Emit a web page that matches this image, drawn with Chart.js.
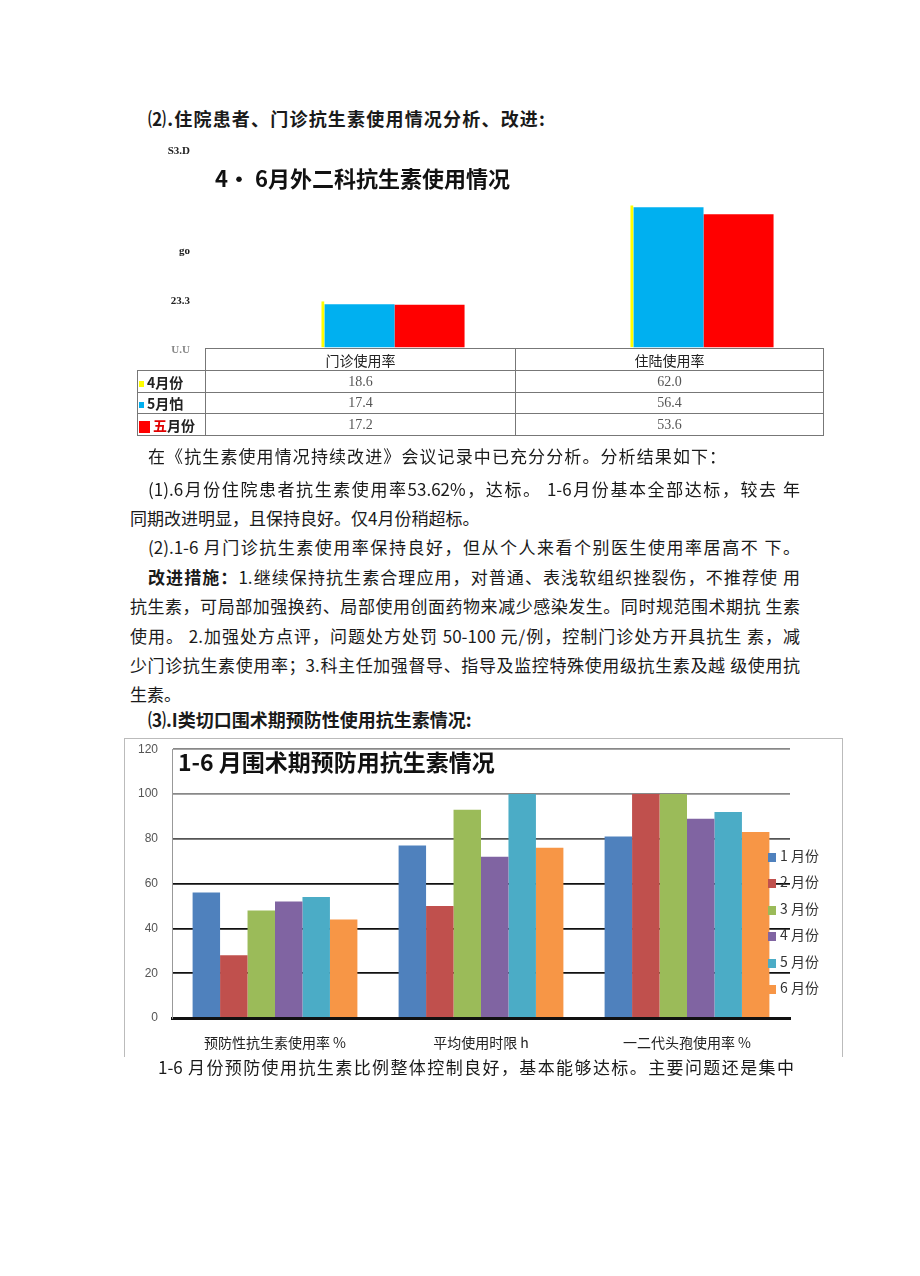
<!DOCTYPE html>
<html lang="zh">
<head>
<meta charset="utf-8">
<title>抗生素使用情况</title>
<script src="https://cdn.jsdelivr.net/npm/chart.js@4.4.1/dist/chart.umd.min.js"></script>
<style>
  html,body{margin:0;padding:0;background:#fff;}
  body{width:920px;height:1276px;position:relative;overflow:hidden;font-family:"Noto Sans CJK SC",sans-serif;color:#1a1a1a;}
  .line{position:absolute;height:26px;line-height:26px;font-size:17px;white-space:nowrap;}
  .just{text-align:justify;text-align-last:justify;white-space:normal;overflow:hidden;}
  .head{font-weight:bold;font-size:18px;}
  b{font-weight:bold;}
  .ctitle{position:absolute;font-weight:bold;white-space:nowrap;color:#111;}
  #t1{position:absolute;left:137px;top:348px;border-collapse:collapse;table-layout:fixed;}
  #t1 td{border:1px solid #777;padding:0;text-align:center;font-size:14px;line-height:18px;}
  #t1 td.corner{border:none;}
  #t1 td.hd{color:#222;}
  #t1 td.val{font-family:"Liberation Serif",serif;color:#555;}
  #t1 td.lab{text-align:left;font-weight:bold;white-space:nowrap;color:#222;}
  .sw{display:inline-block;vertical-align:middle;margin:0 3px 0 1px;}
  #frame2{position:absolute;left:124px;top:738px;width:717px;height:318px;border:1px solid #bbb;border-bottom:none;}
  .leg{position:absolute;left:768px;height:20px;line-height:20px;font-size:14px;color:#333;white-space:nowrap;}
  .leg i{display:inline-block;width:8px;height:9px;margin-right:4px;vertical-align:-1px;}
</style>
</head>
<body>

<div class="line head" style="left:148px;top:105px;letter-spacing:1.2px;">⑵.住院患者、门诊抗生素使用情况分析、改进:</div>

<canvas id="c1" width="686" height="242" style="position:absolute;left:137px;top:127px;"></canvas>
<div class="ctitle" style="left:215px;top:161px;font-size:22px;">4· 6月外二科抗生素使用情况</div>
<table id="t1"></table>

<div class="line" style="left:148px;top:443px;letter-spacing:1.1px;">在《抗生素使用情况持续改进》会议记录中已充分分析。分析结果如下：</div>
<div class="line just" style="left:148px;top:476px;width:652px;">(1).6月份住院患者抗生素使用率53.62%，达标。 1-6月份基本全部达标，较去 年</div>
<div class="line" style="left:130px;top:505px;">同期改进明显，且保持良好。仅4月份稍超标。</div>
<div class="line just" style="left:148px;top:534px;width:652px;">(2).1-6 月门诊抗生素使用率保持良好，但从个人来看个别医生使用率居高不 下。</div>
<div class="line just" style="left:148px;top:564px;width:652px;"><b>改进措施：</b>1.继续保持抗生素合理应用，对普通、表浅软组织挫裂伤，不推荐使 用</div>
<div class="line just" style="left:130px;top:593px;width:670px;">抗生素，可局部加强换药、局部使用创面药物来减少感染发生。同时规范围术期抗 生素</div>
<div class="line just" style="left:130px;top:623px;width:670px;">使用。 2.加强处方点评，问题处方处罚 50-100 元/例，控制门诊处方开具抗生 素，减</div>
<div class="line just" style="left:130px;top:652px;width:670px;">少门诊抗生素使用率；3.科主任加强督导、指导及监控特殊使用级抗生素及越 级使用抗</div>
<div class="line" style="left:130px;top:681px;">生素。</div>
<div class="line head" style="left:148px;top:706px;">⑶.I类切口围术期预防性使用抗生素情况:</div>

<div id="frame2"></div>
<canvas id="c2" width="718" height="328" style="position:absolute;left:124px;top:728px;"></canvas>
<div class="ctitle" style="left:178px;top:744px;font-size:23px;">1-6 月围术期预防用抗生素情况</div>
<div id="legend2"></div>

<div class="line just" style="left:158px;top:1054px;width:636px;">1-6 月份预防使用抗生素比例整体控制良好，基本能够达标。主要问题还是集中</div>

<script>
const $ = (id) => document.getElementById(id);

// chart 1: 4-6月外二科
const cat1 = ['门诊使用率', '住陆使用率'];
const names1 = ['4月份', '5月怕', '五月份'];
const apr = [18.6, 62.0];
const may = [17.4, 56.4];
const jun = [17.2, 53.6];
const colors1 = ['#ffff00', '#00b0f0', '#ff0000'];
const ticks1 = ['U.U', '23.3', 'go', '', 'S3.D'];   // 0,20,40,60,80

// chart 2: 1-6月围术期
const cat2 = ['预防性抗生素使用率 %', '平均使用时限 h', '一二代头孢使用率 %'];
const months2 = ['1 月份', '2 月份', '3 月份', '4 月份', '5 月份', '6 月份'];
const m1 = [56, 77, 81];
const m2 = [28, 50, 100];
const m3 = [48, 93, 100];
const m4 = [52, 72, 89];
const m5 = [54, 100, 92];
const m6 = [44, 76, 83];
const colors2 = ['#4f81bd', '#c0504d', '#9bbb59', '#8064a2', '#4bacc6', '#f79646'];

Chart.defaults.font.family = '"Noto Sans CJK SC", sans-serif';

// note: ticks.padding also pads the y scale top/bottom (~21px), canvases are placed with that in mind
const sets1 = [apr, may, jun];
new Chart($('c1'), {
  type: 'bar',
  data: {
    labels: cat1,
    datasets: sets1.map((d, i) => ({
      label: names1[i],
      data: d,
      // the april bar only shows as a thin yellow edge in the original
      backgroundColor: i === 0 ? 'rgba(255,255,255,0)' : colors1[i],
      borderColor: colors1[i],
      borderWidth: i === 0 ? {top: 0, left: 0, bottom: 0, right: 3} : 0,
      borderSkipped: false,
      categoryPercentage: 0.68,
      barPercentage: 1,
      clip: {left: 0, top: -57, right: 0, bottom: 0}
    }))
  },
  options: {
    responsive: false,
    animation: false,
    layout: {padding: 0},
    plugins: {legend: {display: false}, tooltip: {enabled: false}},
    scales: {
      x: {display: false},
      y: {
        min: 0, max: 80,
        ticks: {
          stepSize: 20, padding: 15, labelOffset: 3,
          callback: (v, i) => ticks1[i],
          font: {family: '"Liberation Serif", serif', size: 11, weight: 'bold'},
          color: (c) => c.index === 0 ? '#888' : '#222'
        },
        grid: {display: false, drawTicks: false},
        border: {display: false},
        afterFit: (s) => { s.width = 68; }
      }
    }
  }
});

// data table under chart 1
let html = '<colgroup><col style="width:68px"><col style="width:310px"><col style="width:308px"></colgroup>';
html += '<tr style="height:22px"><td class="corner"></td>' + cat1.map(c => `<td class="hd">${c}</td>`).join('') + '</tr>';
sets1.forEach((d, i) => {
  const big = i === 2;
  const sw = `<span class="sw" style="background:${colors1[i]};width:${big ? 11 : 5}px;height:${big ? 12 : 6}px"></span>`;
  const name = big ? `<span style="color:#e00000">${names1[i][0]}</span>${names1[i].slice(1)}` : names1[i];
  html += `<tr style="height:${i === 1 ? 21 : 22}px"><td class="lab">${sw}${name}</td>` +
    d.map(v => `<td class="val">${v.toFixed(1)}</td>`).join('') + '</tr>';
});
$('t1').innerHTML = html;

const sets2 = [m1, m2, m3, m4, m5, m6];
const gridCol = {0: '#111', 20: '#111', 40: '#111', 60: '#111', 80: '#555', 100: '#888', 120: '#888'};
new Chart($('c2'), {
  type: 'bar',
  data: {
    labels: cat2,
    datasets: sets2.map((d, i) => ({
      label: months2[i],
      data: d,
      backgroundColor: colors2[i],
      categoryPercentage: 0.8,
      barPercentage: 1
    }))
  },
  options: {
    responsive: false,
    animation: false,
    layout: {padding: {top: 0, right: 52, left: 0, bottom: 0}},
    plugins: {legend: {display: false}, tooltip: {enabled: false}},
    scales: {
      x: {
        grid: {display: false, drawTicks: false},
        border: {display: true, color: '#111', width: 3},
        ticks: {padding: 16, color: '#222', font: {size: 14}},
        afterFit: (s) => { s.height = 38; }
      },
      y: {
        min: 0, max: 120,
        ticks: {stepSize: 20, padding: 14, color: '#555', font: {family: '"Liberation Sans", sans-serif', size: 12}},
        grid: {color: (c) => gridCol[c.tick.value] || '#111', lineWidth: 1.8, drawTicks: false},
        border: {display: true, color: '#999', width: 1},
        afterFit: (s) => { s.width = 48; }
      }
    }
  }
});

// legend for chart 2
const leg = $('legend2');
months2.forEach((m, i) => {
  const div = document.createElement('div');
  div.className = 'leg';
  div.style.top = (845 + i * 26.4) + 'px';
  div.innerHTML = `<i style="background:${colors2[i]}"></i>${m}`;
  leg.appendChild(div);
});
</script>
</body>
</html>
